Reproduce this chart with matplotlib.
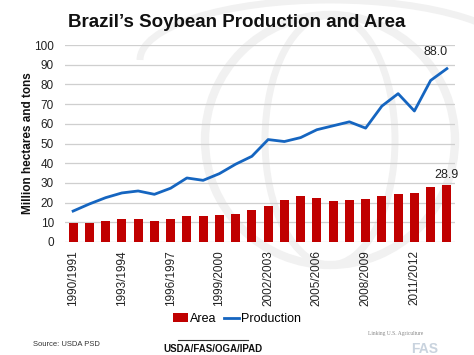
import matplotlib
matplotlib.use("Agg")
import matplotlib.pyplot as plt
import numpy as np
from matplotlib.patches import Arc, Patch
from matplotlib.lines import Line2D

plt.rcParams['font.family'] = ['Liberation Sans', 'DejaVu Sans']

years = ["1990/1991", "1991/1992", "1992/1993", "1993/1994", "1994/1995", "1995/1996",
         "1996/1997", "1997/1998", "1998/1999", "1999/2000", "2000/2001", "2001/2002",
         "2002/2003", "2003/2004", "2004/2005", "2005/2006", "2006/2007", "2007/2008",
         "2008/2009", "2009/2010", "2010/2011", "2011/2012", "2012/2013", "2013/2014"]
area = [9.7, 9.6, 10.7, 11.5, 11.7, 10.9, 11.8, 13.1, 13.0, 13.6, 14.0, 16.4,
        18.5, 21.3, 23.3, 22.2, 20.7, 21.3, 21.7, 23.5, 24.2, 25.0, 27.7, 28.9]
production = [15.7, 19.3, 22.5, 24.9, 25.9, 24.2, 27.3, 32.5, 31.3, 34.7, 39.5, 43.5,
              52.0, 51.0, 53.0, 57.0, 59.0, 61.0, 57.8, 69.0, 75.3, 66.5, 82.0, 88.0]
shown_labels = years[::3][:8]

RED = "#C00000"
BLUE = "#1565C0"

fig = plt.figure(figsize=(4.74, 3.55), dpi=100)
fig.patch.set_facecolor("white")

# faint background watermark (globe)
bg = fig.add_axes([0, 0, 1, 1], zorder=-10)
bg.set_xlim(0, 474)
bg.set_ylim(355, 0)
bg.axis("off")
wm = "#f1f1f1"
bg.add_patch(Arc((330, 140), 250, 250, theta1=0, theta2=360, lw=6, color=wm))
bg.add_patch(Arc((330, 140), 130, 250, theta1=0, theta2=360, lw=5, color=wm))
bg.add_patch(Arc((330, 60), 380, 120, theta1=180, theta2=360, lw=5, color=wm))
bg.add_patch(Arc((260, 430), 700, 330, theta1=95, theta2=180, lw=12, color="#ebebeb"))

x = np.arange(len(years))
ax = fig.add_axes([65/474, 1-242/355, 390/474, 197/355])
ax.patch.set_alpha(0)
ax.bar(x, area, width=0.55, color=RED, zorder=3)
ax.plot(x, production, color=BLUE, lw=2.0, zorder=4)
ax.set_xlim(-0.5, len(years) - 0.5)
ax.set_ylim(0, 100)
ax.set_yticks(np.arange(0, 101, 10))
ax.yaxis.grid(True, color="#cfcfcf", lw=0.9, zorder=0)
for s in ax.spines.values():
    s.set_visible(False)
ax.set_xticks([years.index(l) for l in shown_labels])
ax.set_xticklabels(shown_labels, rotation=90, fontsize=8.5, color="#222222")
ax.tick_params(axis="both", length=0, labelsize=8.5, labelcolor="#222222")
ax.tick_params(axis="y", pad=8)
ax.tick_params(axis="x", pad=6)

ax.annotate(f"{production[-1]:.1f}", (x[-1], production[-1]), xytext=(-8, 8),
            textcoords="offset points", ha="center", va="bottom", fontsize=9, color="#222222")
ax.annotate(f"{area[-1]:.1f}", (x[-1], area[-1]), xytext=(0, 3),
            textcoords="offset points", ha="center", va="bottom", fontsize=9, color="#222222")

fig.text(0.5, 0.938, "Brazil\u2019s Soybean Production and Area", ha="center", va="center",
         fontsize=13.5, fontweight="bold", color="#111111")
fig.text(28/474, 0.597, "Million hectares and tons", rotation=90, ha="center", va="center",
         fontsize=8.5, fontweight="bold", color="#111111")

handles = [Patch(facecolor=RED), Line2D([0], [0], color=BLUE, lw=2)]
fig.legend(handles, ["Area", "Production"], loc="center", bbox_to_anchor=(0.5, 1-319/355),
           ncol=2, frameon=False, fontsize=9, handlelength=1.2, handletextpad=0.2,
           columnspacing=0.6)

fig.text(33/474, 1-344/355, "Source: USDA PSD", fontsize=5.5, ha="left", va="center", color="#333333")
fig.text(213/474, 1-349/355, "USDA/FAS/OGA/IPAD", fontsize=7, fontweight="bold",
         ha="center", va="center", color="#111111")
bg.plot([178, 248], [340, 340], color="#333333", lw=0.8)
fig.text(396/474, 1-334/355, "Linking U.S. Agriculture", fontsize=4, ha="center", va="center",
         color="#888888", family="Liberation Serif")
fig.text(425/474, 1-349/355, "FAS", fontsize=10, fontweight="bold", ha="center", va="center",
         color="#c9d3de")

fig.savefig("out.png", dpi=100)
